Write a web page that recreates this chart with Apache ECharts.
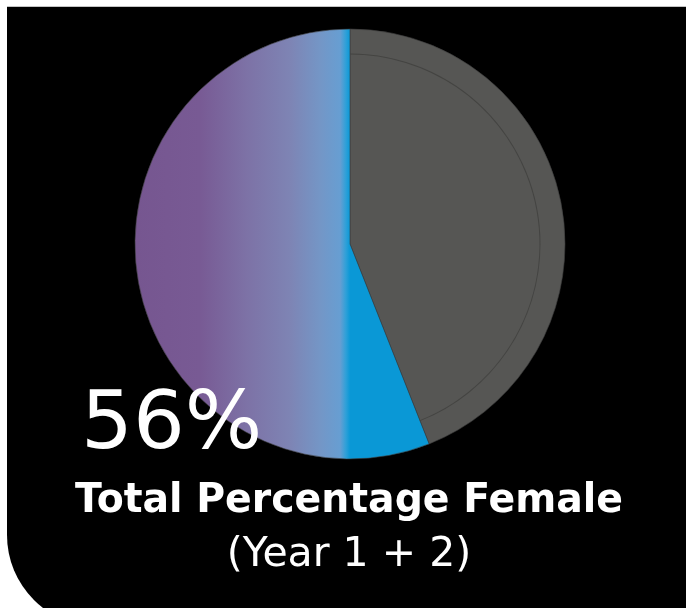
<!DOCTYPE html>
<html><head><meta charset="utf-8">
<style>html,body{margin:0;padding:0;background:#fff;}#c{width:686px;height:608px;}</style>
<script src="https://cdn.jsdelivr.net/npm/echarts@6/dist/echarts.min.js"></script>
</head><body><div id="c"></div>
<script>
var categories = ['Male', 'Female'];
var values = [44, 56];
var bigLabel = '56%';
var titleLine = 'Total Percentage Female';
var subLine = '(Year 1 + 2)';

var chart = echarts.init(document.getElementById('c'), null, {renderer: 'canvas'});
var femaleGrad = new echarts.graphic.LinearGradient(135, 0, 565, 0, [
  {offset: 0, color: '#765690'},
  {offset: 0.15, color: '#785A94'},
  {offset: 0.26, color: '#7D72A6'},
  {offset: 0.36, color: '#7E84B4'},
  {offset: 0.43, color: '#7496C6'},
  {offset: 0.477, color: '#679ED2'},
  {offset: 0.49, color: '#30A0D8'},
  {offset: 0.5, color: '#0A98D6'},
  {offset: 1, color: '#0A98D6'}
], true);
var colors = ['#565654', femaleGrad];
chart.setOption({
  backgroundColor: '#ffffff',
  animation: false,
  graphic: [
    {type: 'rect', z: -10, shape: {x: 7, y: 6, width: 700, height: 1}, style: {fill: '#c4c4c4'}},
    {type: 'rect', z: -9, shape: {x: 7, y: 7, width: 700, height: 620, r: [0, 0, 0, 92]}, style: {fill: '#000000'}},
    {type: 'text', z: 100, x: 81, y: 467, scaleX: 1.02, style: {text: bigLabel, fill: '#ffffff', font: '400 80px "DejaVu Sans"', textAlign: 'left', textVerticalAlign: 'bottom'}},
    {type: 'text', z: 100, x: 349, y: 522, scaleX: 0.96, style: {text: titleLine, fill: '#ffffff', font: '700 41px "DejaVu Sans"', textAlign: 'center', textVerticalAlign: 'bottom'}},
    {type: 'text', z: 100, x: 349, y: 576, scaleX: 1.0, style: {text: subLine, fill: '#ffffff', font: '400 41px "DejaVu Sans"', textAlign: 'center', textVerticalAlign: 'bottom'}}
  ],
  series: [
    {
      type: 'pie', center: [350, 244], radius: [0, 215], startAngle: 90, clockwise: true,
      label: {show: false}, labelLine: {show: false}, silent: true,
      data: categories.map(function (c, i) {
        return {name: c, value: values[i], itemStyle: {color: colors[i], borderColor: '#3c3c3c', borderWidth: 0.6}};
      })
    },
    {
      type: 'pie', center: [350, 244], radius: [189.5, 190.5], startAngle: 90, clockwise: true,
      label: {show: false}, labelLine: {show: false}, silent: true, z: 3,
      data: categories.map(function (c, i) {
        return {name: c, value: values[i], itemStyle: {color: i === 0 ? '#444442' : 'rgba(0,0,0,0)', borderWidth: 0}};
      })
    }
  ]
});
</script></body></html>
